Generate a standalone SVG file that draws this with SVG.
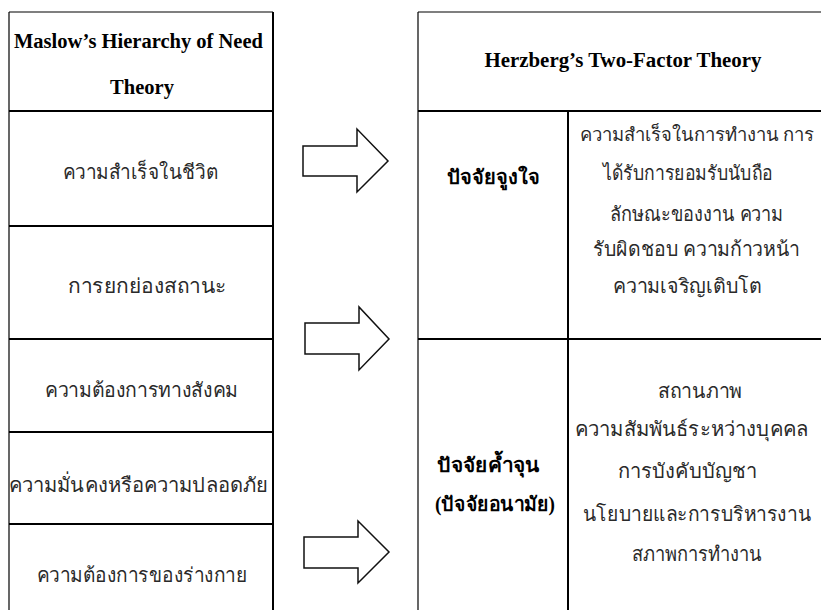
<svg xmlns="http://www.w3.org/2000/svg" width="821" height="610" viewBox="0 0 821 610">
<style>
.ln{stroke:#000;stroke-width:2;fill:none}
.ln1{stroke:#000;stroke-width:1.2;fill:none}
.hd{font-family:"Liberation Serif",serif;font-weight:bold;font-size:20.5px;fill:#000;text-anchor:middle}
.th{font-family:"Liberation Serif","Noto Sans","DejaVu Sans",serif;font-size:20px;fill:#2a2a2a;text-anchor:middle}
.tb{font-family:"Liberation Serif","Noto Sans","DejaVu Sans",serif;font-weight:bold;font-size:20px;fill:#000;text-anchor:middle}
.ar{fill:#fff;stroke:#111;stroke-width:1.5;stroke-linejoin:miter}
</style>
<rect width="821" height="610" fill="#fff"/>
<g id="maslow-table">
<line class="ln1" x1="9" y1="12" x2="9" y2="610"/>
<line class="ln" x1="273" y1="12" x2="273" y2="610"/>
<line class="ln1" x1="9" y1="12" x2="273" y2="12"/>
<line class="ln" x1="9" y1="111" x2="273" y2="111"/>
<line class="ln" x1="9" y1="226" x2="273" y2="226"/>
<line class="ln" x1="9" y1="339" x2="273" y2="339"/>
<line class="ln" x1="9" y1="432" x2="273" y2="432"/>
<line class="ln" x1="9" y1="524" x2="273" y2="524"/>
</g>
<g id="maslow-header"><text class="hd" x="138.5" y="48" textLength="249" lengthAdjust="spacingAndGlyphs">Maslow’s Hierarchy of Need</text><text class="hd" x="142" y="94">Theory</text></g>
<g id="m1"><text class="th" x="140.5" y="179" textLength="155" lengthAdjust="spacingAndGlyphs">ความสำเร็จในชีวิต</text></g>
<g id="m2"><text class="th" x="147.5" y="293" textLength="159" lengthAdjust="spacingAndGlyphs">การยกย่องสถานะ</text></g>
<g id="m3"><text class="th" x="141.5" y="397" textLength="193" lengthAdjust="spacingAndGlyphs">ความต้องการทางสังคม</text></g>
<g id="m4"><text class="th" x="138.5" y="492" textLength="259" lengthAdjust="spacingAndGlyphs">ความมั่นคงหรือความปลอดภัย</text></g>
<g id="m5"><text class="th" x="142" y="582" textLength="210" lengthAdjust="spacingAndGlyphs">ความต้องการของร่างกาย</text></g>
<g id="herzberg-table">
<line class="ln1" x1="418" y1="12" x2="418" y2="610"/>
<line class="ln" x1="568" y1="111" x2="568" y2="610"/>
<line class="ln1" x1="418" y1="12" x2="821" y2="12"/>
<line class="ln" x1="418" y1="111" x2="821" y2="111"/>
<line class="ln" x1="418" y1="339" x2="821" y2="339"/>
</g>
<g id="herzberg-header"><text class="hd" x="623" y="67" textLength="277" lengthAdjust="spacingAndGlyphs">Herzberg’s Two-Factor Theory</text></g>
<g id="motivators"><text class="tb" x="493.5" y="184" textLength="93" lengthAdjust="spacingAndGlyphs">ปัจจัยจูงใจ</text></g>
<g id="motivators-list">
<text class="th" x="697" y="141" style="font-size:18.5px" textLength="234" lengthAdjust="spacingAndGlyphs">ความสำเร็จในการทำงาน การ</text>
<text class="th" x="688" y="180" textLength="170" lengthAdjust="spacingAndGlyphs">ได้รับการยอมรับนับถือ</text>
<text class="th" x="696.5" y="221" textLength="173" lengthAdjust="spacingAndGlyphs">ลักษณะของงาน ความ</text>
<text class="th" x="696.5" y="256" textLength="207" lengthAdjust="spacingAndGlyphs">รับผิดชอบ ความก้าวหน้า</text>
<text class="th" x="687.5" y="293" textLength="149" lengthAdjust="spacingAndGlyphs">ความเจริญเติบโต</text>
</g>
<g id="hygiene"><text class="tb" x="488.5" y="472" textLength="103" lengthAdjust="spacingAndGlyphs">ปัจจัยค้ำจุน</text><text class="tb" x="495" y="511" textLength="120" lengthAdjust="spacingAndGlyphs">(ปัจจัยอนามัย)</text></g>
<g id="hygiene-list">
<text class="th" x="700" y="398" textLength="84" lengthAdjust="spacingAndGlyphs">สถานภาพ</text>
<text class="th" x="691.5" y="436" textLength="233" lengthAdjust="spacingAndGlyphs">ความสัมพันธ์ระหว่างบุคคล</text>
<text class="th" x="687.5" y="478" textLength="139" lengthAdjust="spacingAndGlyphs">การบังคับบัญชา</text>
<text class="th" x="697" y="521" textLength="228" lengthAdjust="spacingAndGlyphs">นโยบายและการบริหารงาน</text>
<text class="th" x="697" y="561" textLength="130" lengthAdjust="spacingAndGlyphs">สภาพการทำงาน</text>
</g>
<g id="connectors">
<polygon class="ar" points="303,146 357,146 357,129 388,161 357,192 357,176 303,176"/>
<polygon class="ar" points="305,323 359,323 359,307 389,339 359,370 359,354 305,354"/>
<polygon class="ar" points="304,537 358,537 358,521 389,552 358,583 358,568 304,568"/>
</g>
</svg>
